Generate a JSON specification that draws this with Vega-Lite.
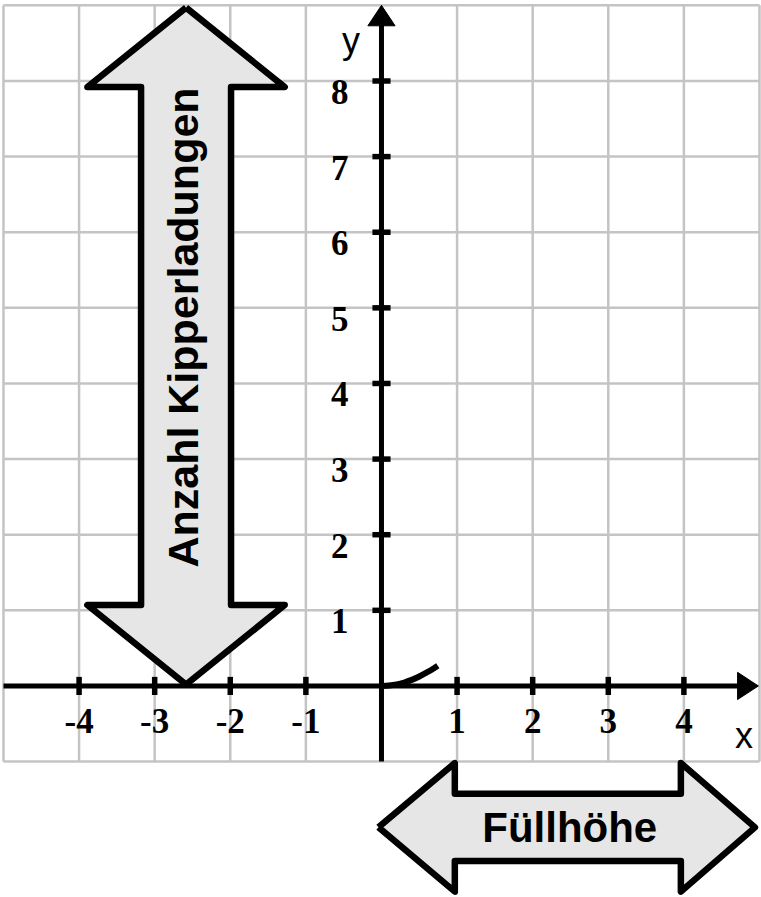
{
  "$schema": "https://vega.github.io/schema/vega-lite/v6.json",
  "width": 761,
  "height": 897,
  "padding": 0,
  "autosize": {"type": "fit", "contains": "padding"},
  "background": "white",
  "config": {"view": {"stroke": null}},
  "datasets": {
    "grid": [
      {"x": -5, "x2": -5, "y": -1, "y2": 9},
      {"x": -4, "x2": -4, "y": -1, "y2": 9},
      {"x": -3, "x2": -3, "y": -1, "y2": 9},
      {"x": -2, "x2": -2, "y": -1, "y2": 9},
      {"x": -1, "x2": -1, "y": -1, "y2": 9},
      {"x": 0, "x2": 0, "y": -1, "y2": 9},
      {"x": 1, "x2": 1, "y": -1, "y2": 9},
      {"x": 2, "x2": 2, "y": -1, "y2": 9},
      {"x": 3, "x2": 3, "y": -1, "y2": 9},
      {"x": 4, "x2": 4, "y": -1, "y2": 9},
      {"x": 5, "x2": 5, "y": -1, "y2": 9},
      {"x": -5, "x2": 5, "y": -1, "y2": -1},
      {"x": -5, "x2": 5, "y": 0, "y2": 0},
      {"x": -5, "x2": 5, "y": 1, "y2": 1},
      {"x": -5, "x2": 5, "y": 2, "y2": 2},
      {"x": -5, "x2": 5, "y": 3, "y2": 3},
      {"x": -5, "x2": 5, "y": 4, "y2": 4},
      {"x": -5, "x2": 5, "y": 5, "y2": 5},
      {"x": -5, "x2": 5, "y": 6, "y2": 6},
      {"x": -5, "x2": 5, "y": 7, "y2": 7},
      {"x": -5, "x2": 5, "y": 8, "y2": 8},
      {"x": -5, "x2": 5, "y": 9, "y2": 9}
    ],
    "arrows": [
      {"g": "v", "i": 0, "x": -2.585, "y": 8.97},
      {"g": "v", "i": 1, "x": -1.28, "y": 7.92},
      {"g": "v", "i": 2, "x": -1.99, "y": 7.92},
      {"g": "v", "i": 3, "x": -1.99, "y": 1.07},
      {"g": "v", "i": 4, "x": -1.28, "y": 1.07},
      {"g": "v", "i": 5, "x": -2.585, "y": 0.02},
      {"g": "v", "i": 6, "x": -3.89, "y": 1.07},
      {"g": "v", "i": 7, "x": -3.18, "y": 1.07},
      {"g": "v", "i": 8, "x": -3.18, "y": 7.92},
      {"g": "v", "i": 9, "x": -3.89, "y": 7.92},
      {"g": "v", "i": 10, "x": -2.585, "y": 8.97},
      {"g": "h", "i": 0, "x": -0.04, "y": -1.87},
      {"g": "h", "i": 1, "x": 0.97, "y": -1.02},
      {"g": "h", "i": 2, "x": 0.97, "y": -1.425},
      {"g": "h", "i": 3, "x": 3.96, "y": -1.425},
      {"g": "h", "i": 4, "x": 3.96, "y": -1.02},
      {"g": "h", "i": 5, "x": 4.94, "y": -1.87},
      {"g": "h", "i": 6, "x": 3.96, "y": -2.72},
      {"g": "h", "i": 7, "x": 3.96, "y": -2.315},
      {"g": "h", "i": 8, "x": 0.97, "y": -2.315},
      {"g": "h", "i": 9, "x": 0.97, "y": -2.72},
      {"g": "h", "i": 10, "x": -0.04, "y": -1.87}
    ],
    "axes": [
      {"x": -5, "x2": 4.75, "y": 0, "y2": 0},
      {"x": 0, "x2": 0, "y": -1, "y2": 8.78}
    ],
    "ticks": [
      {"x": -4, "x2": -4, "y": -0.12, "y2": 0.12},
      {"x": -3, "x2": -3, "y": -0.12, "y2": 0.12},
      {"x": -2, "x2": -2, "y": -0.12, "y2": 0.12},
      {"x": -1, "x2": -1, "y": -0.12, "y2": 0.12},
      {"x": 1, "x2": 1, "y": -0.12, "y2": 0.12},
      {"x": 2, "x2": 2, "y": -0.12, "y2": 0.12},
      {"x": 3, "x2": 3, "y": -0.12, "y2": 0.12},
      {"x": 4, "x2": 4, "y": -0.12, "y2": 0.12},
      {"x": -0.12, "x2": 0.12, "y": 1, "y2": 1},
      {"x": -0.12, "x2": 0.12, "y": 2, "y2": 2},
      {"x": -0.12, "x2": 0.12, "y": 3, "y2": 3},
      {"x": -0.12, "x2": 0.12, "y": 4, "y2": 4},
      {"x": -0.12, "x2": 0.12, "y": 5, "y2": 5},
      {"x": -0.12, "x2": 0.12, "y": 6, "y2": 6},
      {"x": -0.12, "x2": 0.12, "y": 7, "y2": 7},
      {"x": -0.12, "x2": 0.12, "y": 8, "y2": 8}
    ],
    "heads": [
      {"g": "x", "i": 0, "x": 4.985, "y": 0},
      {"g": "x", "i": 1, "x": 4.71, "y": 0.18},
      {"g": "x", "i": 2, "x": 4.71, "y": -0.18},
      {"g": "x", "i": 3, "x": 4.985, "y": 0},
      {"g": "y", "i": 0, "x": 0, "y": 9.0},
      {"g": "y", "i": 1, "x": -0.18, "y": 8.73},
      {"g": "y", "i": 2, "x": 0.18, "y": 8.73},
      {"g": "y", "i": 3, "x": 0, "y": 9.0}
    ],
    "curve": [
      {"i": 0, "x": 0, "y": 0},
      {"i": 1, "x": 0.1, "y": 0.006},
      {"i": 2, "x": 0.2, "y": 0.02},
      {"i": 3, "x": 0.3, "y": 0.045},
      {"i": 4, "x": 0.4, "y": 0.08},
      {"i": 5, "x": 0.5, "y": 0.125},
      {"i": 6, "x": 0.6, "y": 0.178},
      {"i": 7, "x": 0.7, "y": 0.238},
      {"i": 8, "x": 0.745, "y": 0.268}
    ],
    "xlabels": [
      {"x": -4, "y": 0, "label": "-4"},
      {"x": -3, "y": 0, "label": "-3"},
      {"x": -2, "y": 0, "label": "-2"},
      {"x": -1, "y": 0, "label": "-1"},
      {"x": 1, "y": 0, "label": "1"},
      {"x": 2, "y": 0, "label": "2"},
      {"x": 3, "y": 0, "label": "3"},
      {"x": 4, "y": 0, "label": "4"}
    ],
    "ylabels": [
      {"x": 0, "y": 1, "label": "1"},
      {"x": 0, "y": 2, "label": "2"},
      {"x": 0, "y": 3, "label": "3"},
      {"x": 0, "y": 4, "label": "4"},
      {"x": 0, "y": 5, "label": "5"},
      {"x": 0, "y": 6, "label": "6"},
      {"x": 0, "y": 7, "label": "7"},
      {"x": 0, "y": 8, "label": "8"}
    ],
    "axisnames": [
      {"x": -0.403, "y": 8.37, "label": "y"},
      {"x": 4.795, "y": -0.82, "label": "x"}
    ],
    "vtext": [
      {"x": -2.6, "y": 4.74, "label": "Anzahl Kipperladungen"}
    ],
    "htext": [
      {"x": 2.49, "y": -2.063, "label": "Füllhöhe"}
    ]
  },
  "encoding": {
    "x": {"field": "x", "type": "quantitative", "scale": {"domain": [-5.046, 5.02], "nice": false, "zero": false}, "axis": null},
    "y": {"field": "y", "type": "quantitative", "scale": {"domain": [-2.791, 9.071], "nice": false, "zero": false}, "axis": null}
  },
  "layer": [
    {
      "data": {"name": "grid"},
      "mark": {"type": "rule", "stroke": "#c4c4c4", "strokeWidth": 2.5},
      "encoding": {"x2": {"field": "x2"}, "y2": {"field": "y2"}}
    },
    {
      "data": {"name": "arrows"},
      "mark": {"type": "line", "fill": "#e6e6e6", "stroke": "black", "strokeWidth": 6.5, "strokeJoin": "round"},
      "encoding": {"order": {"field": "i", "type": "quantitative"}, "detail": {"field": "g"}}
    },
    {
      "data": {"name": "axes"},
      "mark": {"type": "rule", "stroke": "black", "strokeWidth": 5},
      "encoding": {"x2": {"field": "x2"}, "y2": {"field": "y2"}}
    },
    {
      "data": {"name": "ticks"},
      "mark": {"type": "rule", "stroke": "black", "strokeWidth": 5.5},
      "encoding": {"x2": {"field": "x2"}, "y2": {"field": "y2"}}
    },
    {
      "data": {"name": "heads"},
      "mark": {"type": "line", "fill": "black", "stroke": "black", "strokeWidth": 1, "strokeJoin": "miter"},
      "encoding": {"order": {"field": "i", "type": "quantitative"}, "detail": {"field": "g"}}
    },
    {
      "data": {"name": "curve"},
      "mark": {"type": "line", "stroke": "black", "strokeWidth": 6, "interpolate": "monotone"},
      "encoding": {"order": {"field": "i", "type": "quantitative"}}
    },
    {
      "data": {"name": "xlabels"},
      "mark": {"type": "text", "font": "Liberation Serif", "fontWeight": "bold", "fontSize": 35, "align": "center", "baseline": "alphabetic", "dy": 47, "color": "black"},
      "encoding": {"text": {"field": "label"}}
    },
    {
      "data": {"name": "ylabels"},
      "mark": {"type": "text", "font": "Liberation Serif", "fontWeight": "bold", "fontSize": 35, "align": "right", "baseline": "alphabetic", "dx": -33, "dy": 23, "color": "black"},
      "encoding": {"text": {"field": "label"}}
    },
    {
      "data": {"name": "axisnames"},
      "mark": {"type": "text", "font": "Liberation Sans", "fontSize": 36, "align": "center", "baseline": "alphabetic", "color": "black"},
      "encoding": {"text": {"field": "label"}}
    },
    {
      "data": {"name": "vtext"},
      "mark": {"type": "text", "font": "Liberation Sans", "fontWeight": "bold", "fontSize": 43, "align": "center", "baseline": "middle", "angle": 270, "color": "black"},
      "encoding": {"text": {"field": "label"}}
    },
    {
      "data": {"name": "htext"},
      "mark": {"type": "text", "font": "Liberation Sans", "fontWeight": "bold", "fontSize": 42, "align": "center", "baseline": "alphabetic", "color": "black"},
      "encoding": {"text": {"field": "label"}}
    }
  ]
}
